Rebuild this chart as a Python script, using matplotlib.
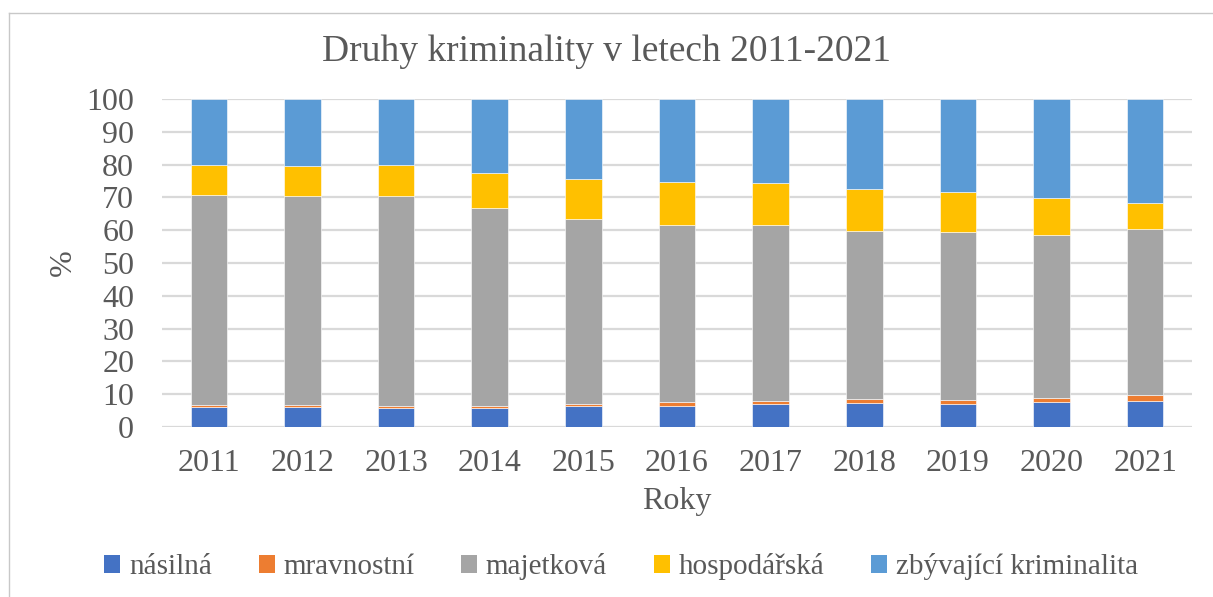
import numpy as np
import matplotlib.pyplot as plt
from matplotlib.lines import Line2D
from matplotlib.patches import Patch

years = ['2011', '2012', '2013', '2014', '2015', '2016', '2017', '2018', '2019', '2020', '2021']

# shares in %
nasilna = [6.2, 6.2, 5.7, 5.7, 6.5, 6.5, 6.9, 7.3, 6.9, 7.5, 7.9]
mravnostni = [0.6, 0.6, 0.8, 0.8, 0.6, 1.1, 1.0, 1.2, 1.4, 1.4, 2.0]
majetkova = [64.0, 63.7, 64.0, 60.3, 56.2, 53.9, 53.6, 51.3, 51.2, 49.5, 50.6]
hospodarska = [9.2, 9.0, 9.5, 10.6, 12.4, 13.2, 12.8, 12.9, 12.0, 11.4, 7.9]
zbyvajici = [20.0, 20.5, 20.0, 22.6, 24.3, 25.3, 25.7, 27.3, 28.5, 30.2, 31.6]

series = [
    ('násilná', nasilna, '#4472C4'),
    ('mravnostní', mravnostni, '#ED7D31'),
    ('majetková', majetkova, '#A5A5A5'),
    ('hospodářská', hospodarska, '#FFC000'),
    ('zbývající kriminalita', zbyvajici, '#5B9BD5'),
]

TXT = '#595959'
plt.rcParams['font.family'] = ['Liberation Serif', 'DejaVu Serif']

fig = plt.figure(figsize=(12.13, 5.97), dpi=100)
ax = fig.add_axes([162 / 1213, 1 - 427 / 597, (1192 - 162) / 1213, (427 - 99) / 597])

x = np.arange(len(years))
bottom = np.zeros(len(years))
for name, vals, col in series:
    ax.bar(x, vals, 0.39, bottom=bottom, color=col, edgecolor='white', linewidth=0.4, zorder=3)
    bottom += np.array(vals)

ax.set_ylim(0, 100)
ax.set_xlim(-0.5, len(years) - 0.5)
ax.set_yticks(np.arange(0, 101, 10))
ax.set_xticks(x)
ax.set_xticklabels(years)
ax.yaxis.grid(True, color='#d9d9d9', linewidth=1.6, zorder=0)
ax.tick_params(length=0, labelsize=23, labelcolor=TXT)
ax.tick_params(axis='x', pad=16)
ax.tick_params(axis='y', pad=20)
for s in ax.spines.values():
    s.set_visible(False)

ax.set_xlabel('Roky', fontsize=23, color=TXT, labelpad=6)
ax.set_ylabel('%', fontsize=23, color=TXT, labelpad=6)

fig.text(0.5, 1 - 52 / 597, 'Druhy kriminality v letech 2011-2021', ha='center', va='center',
         fontsize=27, color=TXT)

handles = [Patch(facecolor=c, edgecolor='none', label=n) for n, _, c in series]
fig.legend(handles=handles, loc='center', bbox_to_anchor=(0.512, 1 - 567 / 597), ncol=5,
           frameon=False, fontsize=21, labelcolor=TXT, handlelength=0.55, handleheight=0.55,
           handletextpad=0.3, columnspacing=1.6)

# chart frame (top and left edges visible)
fig.add_artist(Line2D([9 / 1213, 9 / 1213], [0, 1 - 13 / 597], transform=fig.transFigure,
                      color='#c8c8c8', linewidth=1))
fig.add_artist(Line2D([9 / 1213, 1], [1 - 13 / 597, 1 - 13 / 597], transform=fig.transFigure,
                      color='#c8c8c8', linewidth=1))

fig.savefig('out.png', dpi=100)
